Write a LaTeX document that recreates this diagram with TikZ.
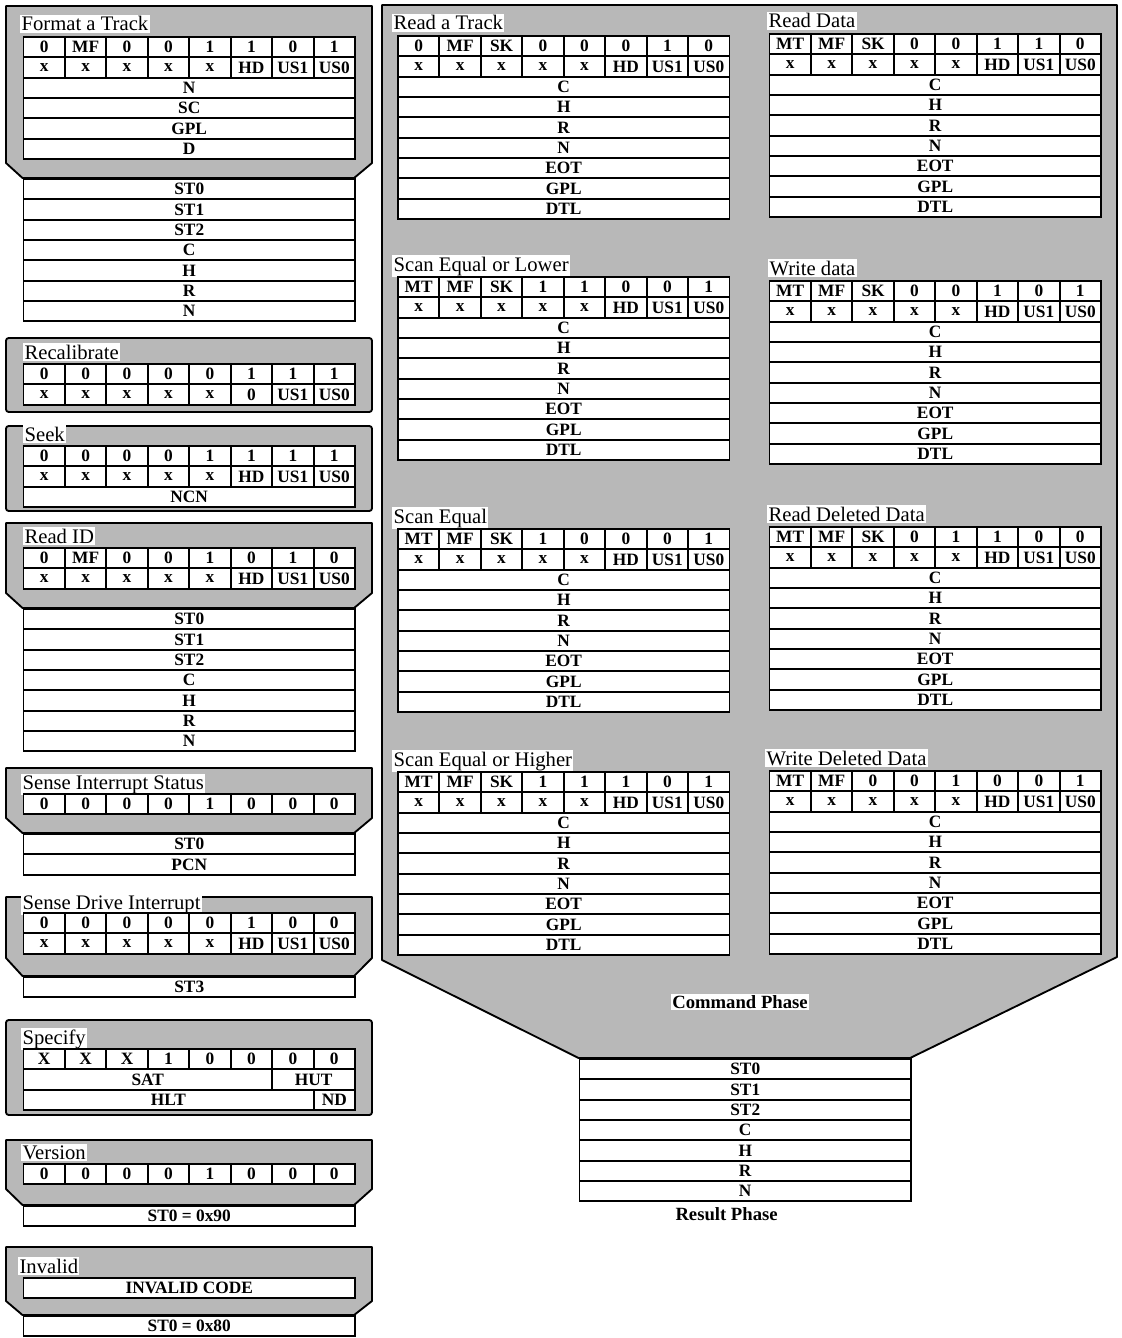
\documentclass[tikz,border=0pt]{standalone}
\usepackage{fontspec}
\setmainfont{Liberation Serif}
\usepackage{tikz}
\usetikzlibrary{positioning}

\definecolor{stipple}{gray}{0.72}

\newcommand{\bitcells}[4]{%
  \foreach \v [count=\i] in {#4}
    \node[cell, minimum width=31.09pt] (#1\i) at ({#2+(\i-1)*41.45},{#3}) {\v};}
\newcommand{\fieldrows}[4]{%
  \foreach \v [count=\i] in {#4}
    \node[cell, minimum width=248.7pt] (#1\i) at ({#2},{#3+(\i-1)*20.35}) {\v};}
\newcommand{\rwtable}[4]{%
  \bitcells{#1a}{#2}{#3}{#4}
  \bitcells{#1b}{#2}{#3+20.35}{x,x,x,x,x,HD,US1,US0}
  \fieldrows{#1c}{#2}{#3+40.7}{C,H,R,N,EOT,GPL,DTL}}

\begin{document}
\begin{tikzpicture}[x=0.75pt, y=-0.75pt,
    cell/.style={draw, line width=1.4pt, fill=white, anchor=north west, inner sep=0pt,
      minimum height=15.26pt, font=\fontsize{13}{13}\selectfont\bfseries},
    cmdpanel/.style={draw, line width=1.4pt, fill=stipple, line join=round},
    cmdname/.style={fill=white, inner sep=1pt, anchor=base west, font=\fontsize{15.5}{16}\selectfont},
    phase/.style={inner sep=1pt, font=\fontsize{14}{14}\selectfont\bfseries}
  ]
  \useasboundingbox (0,0) rectangle (1121,1338);

  % left column
  \draw[cmdpanel] (6,6) -- (372,6) -- (372,163) -- (354.1,178) -- (22.5,178) -- (6,163) -- cycle;
  \node[cmdname] (fat) at (20,31) {Format a Track};
  \bitcells{fta}{22.5}{36}{0,MF,0,0,1,1,0,1}
  \bitcells{ftb}{22.5}{56.35}{x,x,x,x,x,HD,US1,US0}
  \fieldrows{ftc}{22.5}{76.7}{N,SC,GPL,D}
  \fieldrows{ftr}{22.5}{178}{ST0,ST1,ST2,C,H,R,N}

  \draw[cmdpanel, rounded corners=2] (6,338) rectangle (372,412);
  \node[cmdname] (rec) at (23,359) {Recalibrate};
  \bitcells{reca}{22.5}{363}{0,0,0,0,0,1,1,1}
  \bitcells{recb}{22.5}{383.35}{x,x,x,x,x,0,US1,US0}

  \draw[cmdpanel, rounded corners=2] (6,426) rectangle (372,511);
  \node[cmdname] (seek) at (23,441) {Seek};
  \bitcells{ska}{22.5}{445}{0,0,0,0,1,1,1,1}
  \bitcells{skb}{22.5}{465.35}{x,x,x,x,x,HD,US1,US0}
  \fieldrows{skc}{22.5}{485.7}{NCN}

  \draw[cmdpanel] (6,523) -- (372,523) -- (372,593) -- (354.1,608) -- (22.5,608) -- (6,593) -- cycle;
  \node[cmdname] (rid) at (23,543) {Read ID};
  \bitcells{ida}{22.5}{547}{0,MF,0,0,1,0,1,0}
  \bitcells{idb}{22.5}{567.35}{x,x,x,x,x,HD,US1,US0}
  \fieldrows{idr}{22.5}{608}{ST0,ST1,ST2,C,H,R,N}

  \draw[cmdpanel] (6,768) -- (372,768) -- (372,818) -- (354.1,833) -- (22.5,833) -- (6,818) -- cycle;
  \node[cmdname] (sis) at (21,789) {Sense Interrupt Status};
  \bitcells{sisa}{22.5}{793}{0,0,0,0,1,0,0,0}
  \fieldrows{sisr}{22.5}{833}{ST0,PCN}

  \draw[cmdpanel] (6,897) -- (372,897) -- (372,958) -- (354.1,976) -- (22.5,976) -- (6,958) -- cycle;
  \node[cmdname] (sdi) at (21,909) {Sense Drive Interrupt};
  \bitcells{sdia}{22.5}{912}{0,0,0,0,0,1,0,0}
  \bitcells{sdib}{22.5}{932.35}{x,x,x,x,x,HD,US1,US0}
  \fieldrows{sdir}{22.5}{976}{ST3}

  \draw[cmdpanel, rounded corners=2] (6,1020) rectangle (372,1115);
  \node[cmdname] (spec) at (21,1044) {Specify};
  \bitcells{spa}{22.5}{1048}{X,X,X,1,0,0,0,0}
  \node[cell, minimum width=186.5pt] (sat) at (22.5,1068.35) {SAT};
  \node[cell, minimum width=62.2pt] (hut) at (271.2,1068.35) {HUT};
  \node[cell, minimum width=217.6pt] (hlt) at (22.5,1088.7) {HLT};
  \node[cell, minimum width=31.09pt] (nd) at (312.65,1088.7) {ND};

  \draw[cmdpanel] (6,1140) -- (372,1140) -- (372,1189) -- (354.1,1205) -- (22.5,1205) -- (6,1189) -- cycle;
  \node[cmdname] (ver) at (21,1159) {Version};
  \bitcells{vera}{22.5}{1163}{0,0,0,0,1,0,0,0}
  \fieldrows{verr}{22.5}{1205}{ST0 = 0x90}

  \draw[cmdpanel] (6,1247) -- (372,1247) -- (372,1301) -- (354.1,1315) -- (22.5,1315) -- (6,1301) -- cycle;
  \node[cmdname] (inv) at (18,1273) {Invalid};
  \fieldrows{invc}{22.5}{1277}{INVALID CODE}
  \fieldrows{invr}{22.5}{1315}{ST0 = 0x80}

  % read / write / scan group
  \draw[cmdpanel] (382,5) -- (1117,5) -- (1117,957) -- (910.1,1058) -- (578.5,1058) -- (382,960) -- cycle;

  \node[cmdname] (rtk) at (392,30) {Read a Track};
  \rwtable{rt}{397}{35}{0,MF,SK,0,0,0,1,0}
  \node[cmdname] (rdat) at (767,28) {Read Data};
  \rwtable{rd}{768.5}{33}{MT,MF,SK,0,0,1,1,0}

  \node[cmdname] (sel) at (392,271) {Scan Equal or Lower};
  \rwtable{sl}{397}{276}{MT,MF,SK,1,1,0,0,1}
  \node[cmdname] (wdat) at (768,275) {Write data};
  \rwtable{wd}{768.5}{280}{MT,MF,SK,0,0,1,0,1}

  \node[cmdname] (seq) at (392,523) {Scan Equal};
  \rwtable{se}{397}{528}{MT,MF,SK,1,0,0,0,1}
  \node[cmdname] (rddat) at (767,521) {Read Deleted Data};
  \rwtable{rdd}{768.5}{526}{MT,MF,SK,0,1,1,0,0}

  \node[cmdname] (seh) at (392,766) {Scan Equal or Higher};
  \rwtable{sh}{397}{771}{MT,MF,SK,1,1,1,0,1}
  \node[cmdname] (wddat) at (765,765) {Write Deleted Data};
  \rwtable{wdd}{768.5}{770}{MT,MF,0,0,1,0,0,1}

  \node[phase, fill=white] (cmdph) at (740,1002) {Command Phase};
  \fieldrows{res}{578.5}{1058}{ST0,ST1,ST2,C,H,R,N}
  \node[phase, below=3pt of res7, xshift=-14pt] (resph) {Result Phase};
\end{tikzpicture}
\end{document}
